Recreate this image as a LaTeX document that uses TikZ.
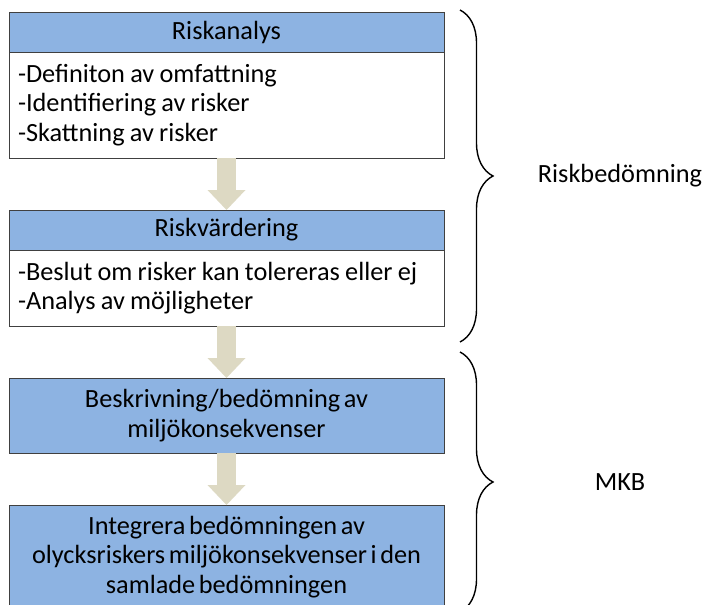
\documentclass[tikz,border=0pt]{standalone}
\usepackage{fontspec}
\setmainfont{Carlito}[WordSpace=0.6]
\usepackage{xcolor}
\definecolor{BoxBlue}{HTML}{8DB3E2}
\definecolor{ArrowTan}{HTML}{DDD9C3}
\definecolor{EdgeGray}{HTML}{404040}
\usetikzlibrary{arrows.meta,positioning,decorations.pathreplacing}

\begin{document}
\begin{tikzpicture}[node distance=1.3cm, every node/.style={font=\fontsize{18.7pt}{21pt}\selectfont, outer sep=0pt}, headbox/.style={draw=EdgeGray, line width=0.7pt, fill=BoxBlue, minimum width=10.875cm, minimum height=1cm, inner sep=0pt, align=center}, listbox/.style={draw=EdgeGray, line width=0.7pt, fill=white, text width=10.425cm, inner xsep=0.225cm, inner ysep=0pt, align=left, execute at begin node={\spaceskip=0.2em\relax}}, stepflow/.style={line width=0.475cm, ArrowTan, -{Triangle[width=0.95cm, length=0.5cm, line width=0pt]}}, bracket/.style={decorate, decoration={brace, amplitude=0.825cm}, line width=1pt}]
        \useasboundingbox (0,0) rectangle (17.575,-15.125);
        \node[headbox] (analys) at (5.6625,-0.8) {Riskanalys};
        \node[listbox, minimum height=2.65cm, below=0pt of analys] (analyslist) {-Definiton av omfattning\\-Identifiering av risker\\-Skattning av risker};
        \node[headbox, below=of analyslist] (vardering) {Riskvärdering};
        \node[listbox, minimum height=1.9cm, below=0pt of vardering] (varderinglist) {-Beslut om risker kan tolereras eller ej\\-Analys av möjligheter};
        \node[headbox, minimum height=1.875cm, below=of varderinglist] (miljo) {Beskrivning/bedömning av\\miljökonsekvenser};
        \node[headbox, minimum height=2.6cm, below=of miljo] (samlad) {Integrera bedömningen av\\olycksriskers miljökonsekvenser i den\\samlade bedömningen};

        \draw[stepflow] (analyslist.south) -- (vardering.north);
        \draw[stepflow] (varderinglist.south) -- (miljo.north);
        \draw[stepflow] (miljo.south) -- (samlad.north);

        \coordinate (riskTop) at (11.5,-0.25);
        \coordinate (riskBot) at (11.5,-8.55);
        \coordinate (mkbTop) at (11.5,-8.8);
        \coordinate (mkbBot) at (11.5,-15.3);
        \draw[bracket] (riskTop) -- node[midway, xshift=4cm] (riskbed) {Riskbedömning} (riskBot);
        \draw[bracket] (mkbTop) -- node[midway, xshift=4cm] (mkb) {MKB} (mkbBot);
    \end{tikzpicture}
\end{document}
